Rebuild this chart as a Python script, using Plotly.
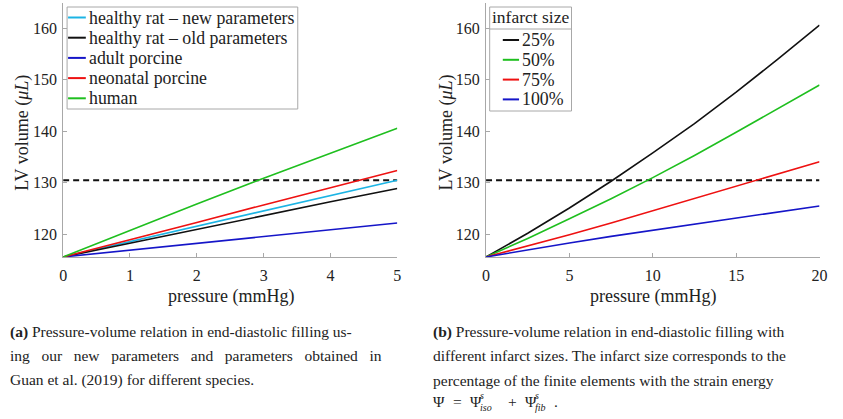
import plotly.graph_objects as go

# ---------------- data ----------------
pressure_a = [0, 1, 2, 3, 4, 5]
rat_new = [115.6, 118.6, 121.6, 124.6, 127.6, 130.5]
rat_old = [115.6, 118.3, 121.0, 123.6, 126.3, 128.9]
adult_porcine = [115.6, 116.9, 118.3, 119.6, 120.9, 122.2]
neonatal_porcine = [115.6, 118.9, 122.3, 125.7, 129.1, 132.4]
human = [115.6, 120.8, 125.9, 130.9, 135.8, 140.6]

pressure_b = [0, 2.5, 5, 7.5, 10, 12.5, 15, 17.5, 20]
infarct_25 = [115.6, 120.2, 125.1, 130.3, 135.8, 141.5, 147.6, 154.0, 160.6]
infarct_50 = [115.6, 119.2, 123.0, 126.9, 131.0, 135.3, 139.8, 144.4, 149.0]
infarct_75 = [115.6, 117.7, 119.9, 122.2, 124.6, 126.9, 129.3, 131.7, 134.1]
infarct_100 = [115.6, 117.0, 118.3, 119.6, 120.8, 122.0, 123.2, 124.4, 125.5]

target_volume = 130.5

labels_a = ["healthy rat \u2013 new parameters", "healthy rat \u2013 old parameters",
            "adult porcine", "neonatal porcine", "human"]
labels_b = ["25%", "50%", "75%", "100%"]
legend_b_title = "infarct size"

xticks_a = [0, 1, 2, 3, 4, 5]
xticks_b = [0, 5, 10, 15, 20]
yticks = [120, 130, 140, 150, 160]

# ---------------- style ----------------
W, H = 843, 419
FONT = "Liberation Serif"
TXT = "#222222"
C_CYAN = "#1cb4e4"
C_BLACK = "#111111"
C_BLUE = "#1515c8"
C_RED = "#ee1111"
C_GREEN = "#1fbf1f"
AXC = "#a8a8a8"
LW = 1.6


def px(x):
    return x / W


def py(y):
    return 1 - y / H


fig = go.Figure()

series_a = [rat_new, rat_old, adult_porcine, neonatal_porcine, human]
colors_a = [C_CYAN, C_BLACK, C_BLUE, C_RED, C_GREEN]
fig.add_trace(go.Scatter(x=[pressure_a[0], pressure_a[-1]], y=[target_volume, target_volume],
                         mode="lines", line=dict(color="#111111", width=2, dash="6px,4px"),
                         xaxis="x", yaxis="y", showlegend=False, hoverinfo="skip"))
for s, c, n in zip(series_a, colors_a, labels_a):
    fig.add_trace(go.Scatter(x=pressure_a, y=s, mode="lines", name=n,
                             line=dict(color=c, width=LW), xaxis="x", yaxis="y",
                             showlegend=False))

series_b = [infarct_25, infarct_50, infarct_75, infarct_100]
colors_b = [C_BLACK, C_GREEN, C_RED, C_BLUE]
fig.add_trace(go.Scatter(x=[pressure_b[0], pressure_b[-1]], y=[target_volume, target_volume],
                         mode="lines", line=dict(color="#111111", width=2, dash="6px,4px"),
                         xaxis="x2", yaxis="y2", showlegend=False, hoverinfo="skip"))
for s, c, n in zip(series_b, colors_b, labels_b):
    fig.add_trace(go.Scatter(x=pressure_b, y=s, mode="lines", name=n,
                             line=dict(color=c, width=LW), xaxis="x2", yaxis="y2",
                             showlegend=False))

ydom = [py(257), py(3)]
yrange = [115.59, 164.91]
tickfont = dict(family=FONT, size=16, color=TXT)
common_x = dict(showline=True, linecolor=AXC, linewidth=1, ticks="inside", ticklen=4,
                tickcolor=AXC, showgrid=False, zeroline=False, tickfont=tickfont,
                ticklabelstandoff=4)
common_y = dict(showline=True, linecolor=AXC, linewidth=1, ticks="inside", ticklen=4,
                tickcolor=AXC, showgrid=False, zeroline=False, domain=ydom, range=yrange,
                tickvals=yticks, tickfont=tickfont, ticklabelstandoff=2)

fig.update_layout(
    width=W, height=H, margin=dict(l=0, r=0, t=0, b=0),
    paper_bgcolor="white", plot_bgcolor="white", showlegend=False,
    font=dict(family=FONT, color=TXT),
    xaxis=dict(common_x, domain=[px(60), px(399)], range=[0, 5], tickvals=xticks_a, anchor="y"),
    yaxis=dict(common_y, anchor="x"),
    xaxis2=dict(common_x, domain=[px(489), px(827.3)], range=[0, 20], tickvals=xticks_b, anchor="y2"),
    yaxis2=dict(common_y, anchor="x2"),
)

annotations = []
shapes = []


def note(x, y, text, size, xanchor="left", angle=0):
    annotations.append(dict(x=px(x), y=py(y), xref="paper", yref="paper", showarrow=False,
                            text=text, textangle=angle,
                            font=dict(family=FONT, size=size, color=TXT),
                            xanchor=xanchor, yanchor="middle"))


# axis titles
for cx in (230, 658):
    note(cx, 296, "pressure (mmHg)", 18, "center")
for cx in (18, 448):
    note(cx, 133, "LV volume (<i>\u03bcL</i>)", 18, "center", -90)

# legend a
shapes.append(dict(type="rect", xref="paper", yref="paper", x0=px(64), x1=px(298),
                   y0=py(109), y1=py(7), line=dict(color=AXC, width=1), fillcolor="white", layer="above"))
for i, (n, c) in enumerate(zip(labels_a, colors_a)):
    yy = 17.5 + i * 20.2
    shapes.append(dict(type="line", xref="paper", yref="paper", x0=px(65), x1=px(83),
                       y0=py(yy), y1=py(yy), line=dict(color=c, width=2), layer="above"))
    note(84, yy, n, 17.8)

# legend b
shapes.append(dict(type="rect", xref="paper", yref="paper", x0=px(492.7), x1=px(575.7),
                   y0=py(111), y1=py(7), line=dict(color=AXC, width=1), fillcolor="white", layer="above"))
shapes.append(dict(type="line", xref="paper", yref="paper", x0=px(492.7), x1=px(575.7),
                   y0=py(29), y1=py(29), line=dict(color=AXC, width=1), layer="above"))
note(534.2, 17, legend_b_title, 17.5, "center")
for i, (n, c) in enumerate(zip(labels_b, colors_b)):
    yy = 40 + i * 19.8
    shapes.append(dict(type="line", xref="paper", yref="paper", x0=px(506), x1=px(522.5),
                       y0=py(yy), y1=py(yy), line=dict(color=c, width=2), layer="above"))
    note(523, yy, n, 17.8)

# captions
NB = "\u00a0"
CS = 15.5
cap_a = [
    "<b>(a)</b> Pressure-volume relation in end-diastolic filling us-",
    "ing" + NB * 3 + "our" + NB * 3 + "new" + NB * 3 + "parameters" + NB * 3 + "and" + NB * 3 + "parameters"
    + NB * 3 + "obtained" + NB * 3 + "in",
    "Guan et al. (2019) for different species.",
]
cap_b = [
    "<b>(b)</b> Pressure-volume relation in end-diastolic filling with",
    "different infarct sizes. The infarct size corresponds to the",
    "percentage of the finite elements with the strain energy",
]
for i, t in enumerate(cap_a):
    note(4, 331.5 + i * 24.3, t, CS)
for i, t in enumerate(cap_b):
    note(432.7, 331.5 + i * 24.3, t, CS)

# math line: Psi = Psi^s_iso + Psi^s_fib.
ym = 401
note(432.7, ym, "\u03a8", CS)
note(453, ym, "=", CS)
note(470.7, ym, "\u03a8", CS)
note(481, ym - 5.5, "<i>s</i>", 10)
note(481, ym + 6, "<i>iso</i>", 10)
note(509, ym, "+", CS)
note(526, ym, "\u03a8", CS)
note(536.7, ym - 5.5, "<i>s</i>", 10)
note(536.7, ym + 6, "<i>fib</i>", 10)
note(556, ym, ".", CS)

fig.update_layout(annotations=annotations, shapes=shapes)
fig.write_html("out.html")
